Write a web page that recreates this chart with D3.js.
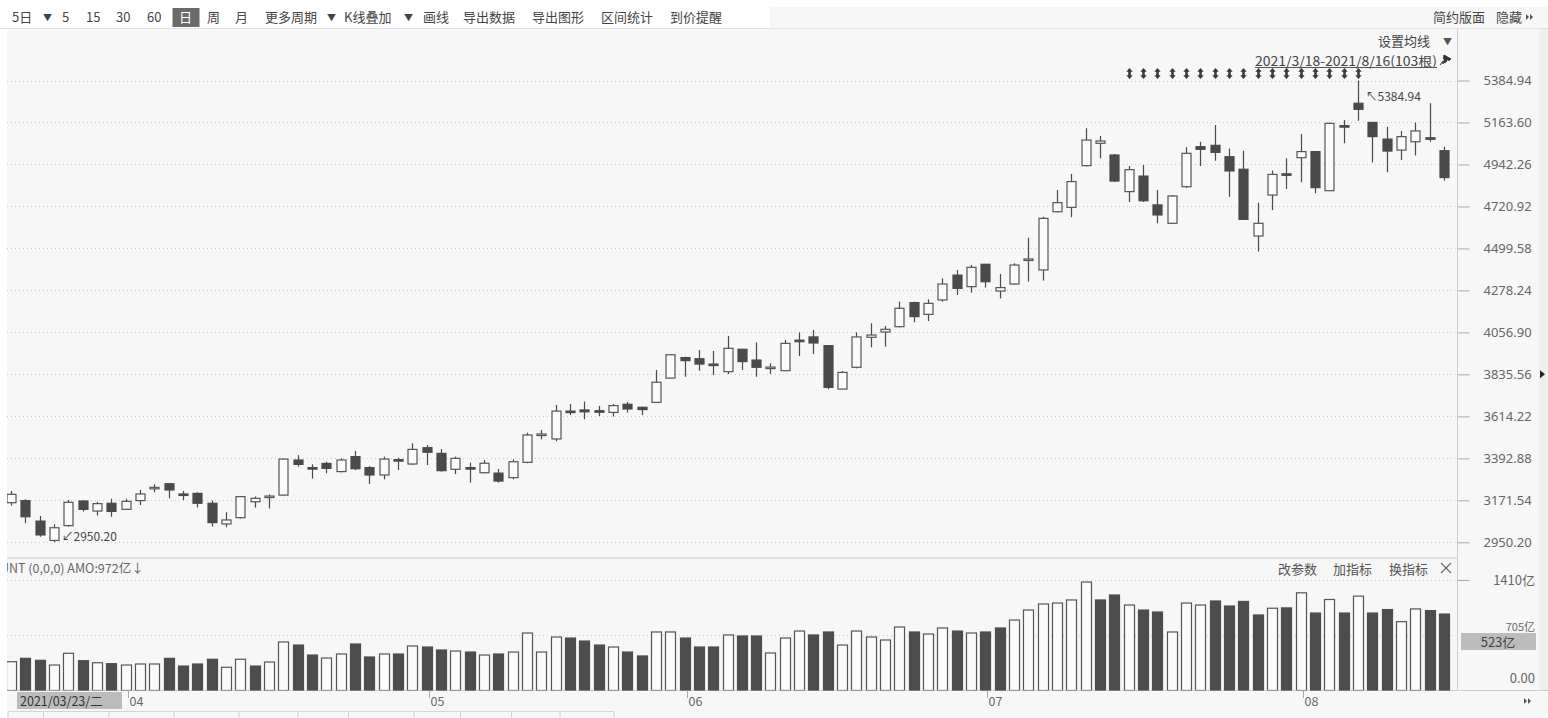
<!DOCTYPE html>
<html>
<head>
<meta charset="utf-8">
<script src="https://cdn.jsdelivr.net/npm/d3@7/dist/d3.min.js"></script>
<style>
  body { margin: 0; background: #fff; overflow: hidden; }
  svg text { font-family: "Noto Sans CJK SC", "Noto Sans", sans-serif; }
</style>
</head>
<body>
<script>
// ---- data ----
const dates = [
  "2021-03-22","2021-03-23","2021-03-24","2021-03-25","2021-03-26","2021-03-29","2021-03-30","2021-03-31",
  "2021-04-01","2021-04-02","2021-04-06","2021-04-07","2021-04-08","2021-04-09","2021-04-12","2021-04-13","2021-04-14","2021-04-15","2021-04-16","2021-04-19","2021-04-20","2021-04-21","2021-04-22","2021-04-23","2021-04-26","2021-04-27","2021-04-28","2021-04-29","2021-04-30",
  "2021-05-06","2021-05-07","2021-05-10","2021-05-11","2021-05-12","2021-05-13","2021-05-14","2021-05-17","2021-05-18","2021-05-19","2021-05-20","2021-05-21","2021-05-24","2021-05-25","2021-05-26","2021-05-27","2021-05-28","2021-05-31",
  "2021-06-01","2021-06-02","2021-06-03","2021-06-04","2021-06-07","2021-06-08","2021-06-09","2021-06-10","2021-06-11","2021-06-15","2021-06-16","2021-06-17","2021-06-18","2021-06-21","2021-06-22","2021-06-23","2021-06-24","2021-06-25","2021-06-28","2021-06-29","2021-06-30",
  "2021-07-01","2021-07-02","2021-07-05","2021-07-06","2021-07-07","2021-07-08","2021-07-09","2021-07-12","2021-07-13","2021-07-14","2021-07-15","2021-07-16","2021-07-19","2021-07-20","2021-07-21","2021-07-22","2021-07-23","2021-07-26","2021-07-27","2021-07-28","2021-07-29","2021-07-30",
  "2021-08-02","2021-08-03","2021-08-04","2021-08-05","2021-08-06","2021-08-09","2021-08-10","2021-08-11","2021-08-12","2021-08-13","2021-08-16"
];

const opens = [
  3159,3170,3062,2960,3038,3168,3115,3156,3124,3170,
  3235,3259,3205,3208,3156,3047,3080,3164,3187,3199,
  3384,3344,3366,3323,3402,3344,3305,3386,3363,3449,
  3419,3335,3344,3317,3315,3291,3372,3517,3495,3642,
  3648,3644,3635,3678,3662,3688,3816,3924,3918,3890,
  3850,3968,3911,3870,3855,4016,4033,3987,3758,3873,
  4031,4059,4087,4214,4152,4228,4359,4298,4416,4275,
  4312,4440,4386,4693,4716,4936,5054,4992,4799,4881,
  4729,4632,4825,5036,5043,4983,4917,4565,4781,4893,
  4978,5010,4804,5147,5265,5164,5076,5018,5062,5083,
  5015
];
const highs = [
  3221,3177,3089,3045,3173,3171,3164,3180,3180,3226,
  3256,3261,3221,3214,3170,3108,3194,3192,3203,3393,
  3410,3361,3375,3393,3432,3352,3402,3396,3472,3463,
  3442,3402,3370,3384,3337,3388,3528,3542,3674,3679,
  3692,3669,3679,3690,3665,3859,3943,3929,3964,3959,
  4038,3969,4004,3894,4017,4057,4070,3990,3853,4057,
  4105,4091,4219,4219,4231,4342,4386,4412,4417,4365,
  4421,4556,4667,4808,4892,5133,5092,4997,4934,4939,
  4808,4781,5033,5062,5150,5027,5015,4741,4910,4975,
  5103,5011,5163,5177,5384.94,5166,5141,5119,5163,5265,
  5036
];
const lows = [
  3143,3050,2980,2950.20,3033,3112,3091,3085,3120,3147,
  3214,3182,3173,3134,3033,3029,3076,3133,3129,3196,
  3349,3286,3314,3319,3331,3258,3282,3331,3358,3358,
  3323,3310,3265,3314,3265,3282,3367,3493,3483,3621,
  3599,3616,3613,3634,3621,3686,3813,3823,3855,3832,
  3837,3859,3823,3838,3853,3932,3943,3757,3757,3867,
  3978,3982,4084,4110,4117,4219,4254,4266,4293,4236,
  4309,4324,4330,4690,4664,4931,4975,4850,4744,4744,
  4632,4628,4820,4934,4962,4772,4649,4483,4702,4813,
  4848,4790,4802,5054,5173,4953,4901,4966,4989,5062,
  4857
];
const closes = [
  3203,3085,2989,3027,3161,3124,3154,3113,3166,3205,
  3240,3226,3201,3156,3054,3068,3191,3182,3194,3389,
  3361,3338,3340,3384,3338,3305,3389,3383,3440,3425,
  3328,3393,3337,3367,3273,3375,3516,3521,3642,3640,
  3638,3636,3671,3653,3650,3794,3939,3908,3890,3884,
  3973,3903,3873,3874,3999,4011,4001,3767,3846,4033,
  4043,4073,4184,4140,4210,4312,4289,4400,4324,4293,
  4412,4444,4658,4741,4852,5071,5066,4855,4915,4751,
  4676,4776,5001,5022,5006,4908,4653,4632,4890,4889,
  5010,4820,5159,5143,5233,5089,5013,5089,5119,5079,
  4873
];
// 成交额, 亿
const amounts = [
  366,409,384,324,473,379,353,341,324,337,
  337,409,311,337,397,295,397,311,362,617,
  578,451,413,464,591,426,464,464,566,553,
  515,502,489,451,464,489,731,489,680,667,
  629,578,553,489,439,744,744,667,553,553,
  706,693,693,477,667,756,706,744,578,756,
  680,642,807,744,718,795,756,731,744,795,
  896,1023,1100,1112,1151,1379,1151,1214,1087,1023,
  998,744,1112,1087,1138,1074,1132,960,1046,1050,
  1242,985,1157,985,1200,985,1029,875,1037,1016,
  972
];

const priceTicks = [2950.20,3171.54,3392.88,3614.22,3835.56,4056.90,4278.24,4499.58,4720.92,4942.26,5163.60,5384.94];
const volTicks = [0, 705, 1410];
const volTickLabels = ['0.00', '705亿', '1410亿'];
const monthTicks = ['2021-04-01','2021-05-06','2021-06-01','2021-07-01','2021-08-02'];
const monthLabels = ['04','05','06','07','08'];
const markerDates = dates.slice(dates.indexOf('2021-07-15'), dates.indexOf('2021-08-06') + 1);

const toolbarLabels = ['5日','▼','5','15','30','60','日','周','月','更多周期','▼','K线叠加','▼','画线','导出数据','导出图形','区间统计','到价提醒'];
const toolbarX = [12,43,62,86,116,147,179,207,235,265,327,344,404,423,463,532,601,670];

// ---- layout ----
const W = 1548, H = 718;
const L = { left: 7, axisX: 1457.5, top: 29, sep: 558, volBottom: 690.5 };

const rows = dates.map((d, i) => ({
  date: d, open: opens[i], high: highs[i], low: lows[i], close: closes[i],
  amount: amounts[i],
  up: closes[i] >= opens[i],
  volUp: i === 0 ? closes[i] >= opens[i] : closes[i] >= closes[i - 1]
}));

const svg = d3.select('body').append('svg')
  .attr('width', W)
  .attr('height', H);

// backgrounds
svg.append('rect').attr('width', W).attr('height', H).attr('fill', '#f7f7f7');
svg.append('rect').attr('width', W).attr('height', 7).attr('fill', '#fff');
svg.append('rect').attr('width', 770).attr('height', 28).attr('fill', '#fff');
svg.append('rect').attr('width', L.left).attr('height', H).attr('fill', '#fff');
svg.append('rect').attr('x', 1539).attr('y', 29).attr('width', 9).attr('height', 661).attr('fill', '#efefef');
svg.append('line').attr('x1', 0).attr('x2', W).attr('y1', 28.5).attr('y2', 28.5).attr('stroke', '#e2e2e2');

// toolbar
svg.append('rect').attr('x', 172.5).attr('y', 8).attr('width', 27).attr('height', 19).attr('fill', '#6b6b6b');
const tb = svg.append('g').attr('font-size', 13).attr('fill', '#444');
toolbarLabels.forEach((t, i) => {
  tb.append('text')
    .attr('x', toolbarX[i])
    .attr('y', t === '▼' ? 21 : 22)
    .attr('font-size', t === '▼' ? 9 : 13)
    .attr('fill', t === '日' ? '#fff' : '#444')
    .text(t);
});
tb.append('text').attr('x', 1433).attr('y', 22).text('简约版面');
tb.append('text').attr('x', 1496).attr('y', 22).text('隐藏');

function doubleArrow(g, x, y) {
  g.append('path')
    .attr('d', `M${x},${y - 3}L${x + 3},${y}L${x},${y + 3}ZM${x + 4},${y - 3}L${x + 7},${y}L${x + 4},${y + 3}Z`)
    .attr('fill', '#555');
}
doubleArrow(svg, 1526, 17);
doubleArrow(svg, 1524, 701);

// scales
const x = d3.scalePoint().domain(dates).range([11, 1444]);
const yPrice = d3.scaleLinear().domain([2950.20, 5384.94]).range([542.3, 80.5]);
const yVol = d3.scaleLinear().domain([0, 1410]).range([L.volBottom, 579.6]);
const px = d => Math.round(x(d)) + 0.5;

// clip for the plotting area
svg.append('clipPath').attr('id', 'plotClip')
  .append('rect').attr('x', L.left).attr('y', L.top).attr('width', L.axisX - L.left - 1).attr('height', L.volBottom - L.top);

// grid lines
const grid = svg.append('g').attr('stroke', '#c9c9c9').attr('stroke-dasharray', '1,3');
grid.selectAll('line.p').data(priceTicks).join('line')
  .attr('x1', L.left).attr('x2', L.axisX - 2)
  .attr('y1', d => Math.round(yPrice(d)) + 0.5).attr('y2', d => Math.round(yPrice(d)) + 0.5);
grid.selectAll('line.v').data(volTicks.filter(d => d > 0)).join('line')
  .attr('x1', L.left).attr('x2', L.axisX - 2)
  .attr('y1', d => Math.round(yVol(d)) + 0.5).attr('y2', d => Math.round(yVol(d)) + 0.5);

// frame lines
svg.append('line').attr('x1', L.left).attr('x2', L.axisX).attr('y1', L.sep).attr('y2', L.sep).attr('stroke', '#cfcfcf');
svg.append('line').attr('x1', L.axisX).attr('x2', L.axisX).attr('y1', L.top).attr('y2', L.volBottom).attr('stroke', '#cfcfcf');
svg.append('line').attr('x1', L.left).attr('x2', W).attr('y1', L.volBottom).attr('y2', L.volBottom).attr('stroke', '#cfcfcf');

// price axis
const yAxis = d3.axisRight(yPrice)
  .tickValues(priceTicks)
  .tickFormat(d3.format('.2f'))
  .tickSize(12)
  .tickPadding(14);
const yAxisGroup = svg.append('g')
  .attr('transform', `translate(${L.axisX},0)`)
  .call(yAxis);
yAxisGroup.select('.domain').remove();
yAxisGroup.selectAll('line').attr('stroke', '#aaa');
yAxisGroup.selectAll('text')
  .attr('fill', '#666')
  .attr('font-size', 13)
  .style('font-family', '"Noto Sans", sans-serif');

// right edge marker
svg.append('path')
  .attr('d', `M1540,${yPrice(3835.56) - 4}L1545,${yPrice(3835.56)}L1540,${yPrice(3835.56) + 4}Z`)
  .attr('fill', '#222');

// candles
const plot = svg.append('g').attr('clip-path', 'url(#plotClip)');
const candle = plot.selectAll('g.candle').data(rows).join('g').attr('class', 'candle');
candle.append('line')
  .attr('x1', d => px(d.date)).attr('x2', d => px(d.date))
  .attr('y1', d => yPrice(d.high)).attr('y2', d => yPrice(d.low))
  .attr('stroke', '#4a4a4a').attr('stroke-width', 1.2);
candle.append('rect')
  .attr('x', d => Math.round(x(d.date)) - 4)
  .attr('width', 9)
  .attr('y', d => yPrice(Math.max(d.open, d.close)))
  .attr('height', d => Math.max(1.5, Math.abs(yPrice(d.open) - yPrice(d.close))))
  .attr('fill', d => d.up ? '#fbfbfb' : '#4a4a4a')
  .attr('stroke', d => d.up ? '#555' : '#4a4a4a')
  .attr('stroke-width', 1.2);

// high / low labels
const hiIdx = d3.maxIndex(rows, d => d.high);
const loIdx = d3.minIndex(rows, d => d.low);
svg.append('text')
  .attr('x', px(dates[hiIdx]) + 7).attr('y', yPrice(highs[hiIdx]) + 20)
  .attr('font-size', 12).attr('fill', '#444')
  .text('↖' + d3.format('.2f')(highs[hiIdx]));
svg.append('text')
  .attr('x', px(dates[loIdx]) + 7).attr('y', yPrice(lows[loIdx]) - 1)
  .attr('font-size', 12).attr('fill', '#444')
  .text('↙' + d3.format('.2f')(lows[loIdx]));

// interval markers
const mk = svg.append('g').attr('fill', '#3a3a3a').attr('stroke', '#3a3a3a');
markerDates.forEach(d => {
  const cx = px(d), cy = 73.5;
  mk.append('line').attr('x1', cx).attr('x2', cx).attr('y1', cy - 3).attr('y2', cy + 3).attr('stroke-width', 2.6);
  mk.append('path').attr('stroke', 'none')
    .attr('d', `M${cx - 3.2},${cy - 1.8}L${cx},${cy - 5.5}L${cx + 3.2},${cy - 1.8}ZM${cx - 3.2},${cy + 1.8}L${cx},${cy + 5.5}L${cx + 3.2},${cy + 1.8}Z`);
});

// top-right header
svg.append('text').attr('x', 1378).attr('y', 46).attr('font-size', 13).attr('fill', '#444').text('设置均线');
svg.append('text').attr('x', 1443).attr('y', 45).attr('font-size', 9).attr('fill', '#555').text('▼');
svg.append('text')
  .attr('x', 1255).attr('y', 66)
  .attr('font-size', 13).attr('fill', '#444')
  .attr('textLength', 182).attr('lengthAdjust', 'spacingAndGlyphs')
  .text('2021/3/18-2021/8/16(103根)');
svg.append('line').attr('x1', 1255).attr('x2', 1437).attr('y1', 67.5).attr('y2', 67.5).attr('stroke', '#555');
svg.append('path')
  .attr('d', 'M1444,55L1451,59L1449,60.5L1447.5,59.5L1446,62L1442.5,63.5L1444.5,60L1443.5,58.5Z M1443,61L1440,65')
  .attr('fill', '#333').attr('stroke', '#333').attr('stroke-width', 1);

// volume bars
plot.selectAll('rect.vol').data(rows).join('rect').attr('class', 'vol')
  .attr('x', d => Math.round(x(d.date)) - 4.5)
  .attr('width', 10)
  .attr('y', d => yVol(d.amount))
  .attr('height', d => yVol(0) - yVol(d.amount))
  .attr('fill', d => d.volUp ? '#fbfbfb' : '#4d4d4d')
  .attr('stroke', d => d.volUp ? '#555' : '#4d4d4d')
  .attr('stroke-width', 1.2);

// volume header
svg.append('clipPath').attr('id', 'hdrClip')
  .append('rect').attr('x', L.left).attr('y', L.sep).attr('width', 600).attr('height', 20);
svg.append('text')
  .attr('clip-path', 'url(#hdrClip)')
  .attr('x', 0).attr('y', 573)
  .attr('font-size', 12.5).attr('fill', '#666')
  .text('UNT (0,0,0) AMO:' + amounts[amounts.length - 1] + '亿↓');
const volTools = svg.append('g').attr('font-size', 13).attr('fill', '#555');
volTools.append('text').attr('x', 1278).attr('y', 574).text('改参数');
volTools.append('text').attr('x', 1333).attr('y', 574).text('加指标');
volTools.append('text').attr('x', 1389).attr('y', 574).text('换指标');
volTools.append('path').attr('d', 'M1441,563L1451,573M1451,563L1441,573').attr('stroke', '#666').attr('stroke-width', 1.1);

// volume axis (the hover box below sits where the 705 label would be, so that label is nudged up)
const vAxis = svg.append('g').attr('font-size', 13).attr('fill', '#666');
volTicks.forEach((v, i) => {
  vAxis.append('text')
    .attr('x', 1535)
    .attr('y', v === 0 ? yVol(v) - 8 : v === 705 ? 631 : yVol(v) + 5)
    .attr('font-size', v === 705 ? 11 : 13)
    .attr('text-anchor', 'end')
    .text(volTickLabels[i]);
});
svg.append('line').attr('x1', L.axisX).attr('x2', L.axisX + 12)
  .attr('y1', Math.round(yVol(1410)) + 0.5).attr('y2', Math.round(yVol(1410)) + 0.5).attr('stroke', '#aaa');
svg.append('rect').attr('x', 1461).attr('y', 633).attr('width', 75).attr('height', 17).attr('fill', '#bcbcbc');
svg.append('text').attr('x', 1498).attr('y', 646.5).attr('text-anchor', 'middle')
  .attr('font-size', 13).attr('fill', '#444').text('523亿');

// x axis months
const xa = svg.append('g');
monthTicks.forEach((d, i) => {
  const tx = Math.round(x(d)) + 2.5;
  xa.append('line').attr('x1', tx).attr('x2', tx).attr('y1', L.volBottom).attr('y2', 698).attr('stroke', '#aaa');
  xa.append('text').attr('x', tx + 1).attr('y', 706).attr('font-size', 12.5).attr('fill', '#666').text(monthLabels[i]);
});
svg.append('rect').attr('x', 17).attr('y', 692).attr('width', 105).attr('height', 17).attr('fill', '#bcbcbc');
svg.append('text').attr('x', 20).attr('y', 705.5).attr('font-size', 12.5).attr('fill', '#333')
  .text(dates[1].replace(/-/g, '/') + '/二');

// bottom strip separators
const strip = [8, 43.5, 109, 174, 239, 298, 348.5, 414, 460.5, 511.5, 560, 614];
svg.append('line').attr('x1', 8).attr('x2', 614).attr('y1', 711.5).attr('y2', 711.5).attr('stroke', '#d4d4d4');
strip.forEach(s => {
  svg.append('line').attr('x1', s).attr('x2', s).attr('y1', 711.5).attr('y2', 718).attr('stroke', '#d4d4d4');
});
</script>
</body>
</html>
